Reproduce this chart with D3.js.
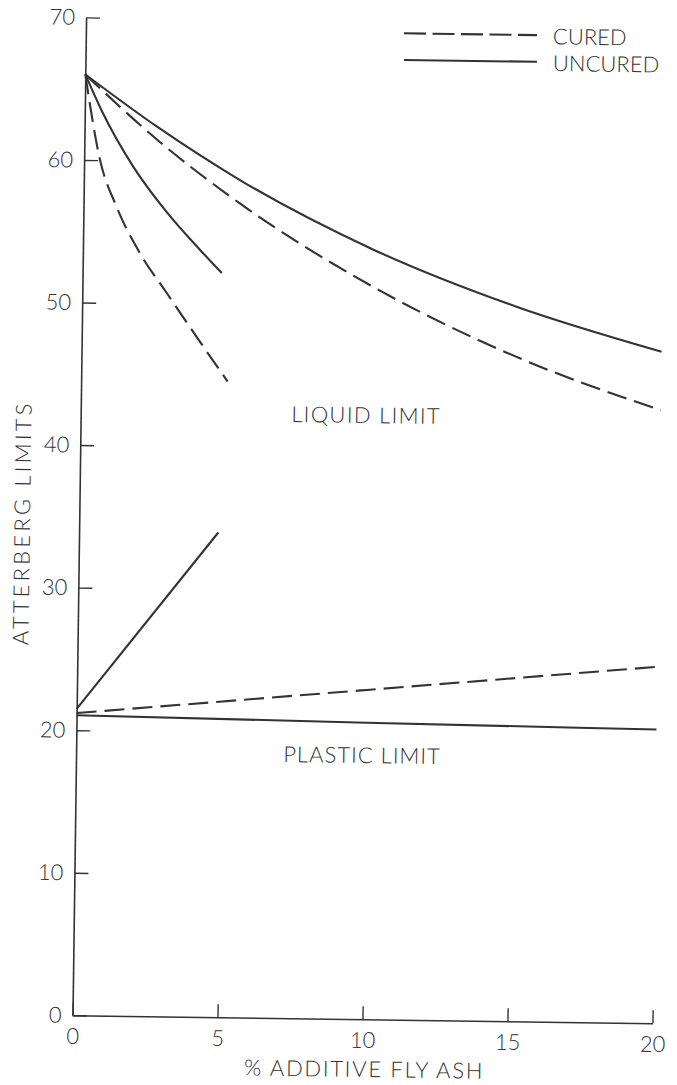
<!DOCTYPE html>
<html>
<head>
<meta charset="utf-8">
<script src="https://cdn.jsdelivr.net/npm/d3@7"></script>
<style>
  html, body { margin: 0; padding: 0; background: #fff; }
  svg { display: block; }
  text { font-family: Lato, "DejaVu Sans", sans-serif; font-weight: 300; fill: #333; }
</style>
</head>
<body>
<svg id="chart" width="677" height="1085"></svg>
<script>
// ---------- data ----------
const xTicks = [0, 5, 10, 15, 20];
const yTicks = [0, 10, 20, 30, 40, 50, 60, 70];

// Liquid limit
const llUncuredLongX = [0, 2.5, 5.38, 10, 15, 20];
const llUncuredLongY = [66, 62.4, 58.74, 54.0, 50.1, 47.1];
const llCuredLongX   = [0, 2.5, 5.39, 10, 15, 20];
const llCuredLongY   = [66, 61.5, 57.1, 51.4, 46.6, 43.0];
const llUncuredShortX = [0, 0.6, 1.69, 2.88, 4.04, 4.8];
const llUncuredShortY = [66, 63.4, 59.6, 56.4, 53.8, 52.2];
const llCuredShortX   = [0, 0.55, 1.14, 1.97, 2.91, 3.96, 5.05];
const llCuredShortY   = [66, 60.0, 56.75, 53.5, 50.75, 47.7, 44.6];

// Plastic limit
const plUncuredShortX = [0, 4.8];
const plUncuredShortY = [21.5, 34.0];
const plCuredX = [0, 10, 20];
const plCuredY = [21.2, 23.1, 25.0];
const plUncuredLongX = [0, 10, 20];
const plUncuredLongY = [21.05, 20.8, 20.6];

const legendLabels = ["CURED", "UNCURED"];

// ---------- layout ----------
const ox = 72.5, oy = 1015.3;      // screen position of the origin
const angle = 0.78;                // scanned page is slightly rotated
const rad = angle * Math.PI / 180, cs = Math.cos(rad), sn = Math.sin(rad);
function toG(sx, sy) {             // screen point -> rotated group coordinates
  const dx = sx - ox, dy = sy - oy;
  return [dx * cs + dy * sn, -dx * sn + dy * cs];
}

const svg = d3.select("#chart");
const g = svg.append("g").attr("transform", `translate(${ox},${oy}) rotate(${angle})`);

const x = d3.scaleLinear().domain([0, 20]).range([0, 580]);
const y = d3.scaleLinear().domain([0, 70]).range([0, -998]);

const ink = "#333";

// axes
const xAxis = d3.axisBottom(x).tickValues(xTicks).tickSizeInner(-13).tickSizeOuter(0).tickPadding(13);
const yAxis = d3.axisLeft(y).tickValues(yTicks).tickSizeInner(-14).tickSizeOuter(0).tickPadding(11);

const gx = g.append("g").call(xAxis);
const gy = g.append("g").call(yAxis);
[gx, gy].forEach(a => {
  a.select(".domain").attr("stroke", ink).attr("stroke-width", 1.6);
  a.selectAll(".tick line").attr("stroke", ink).attr("stroke-width", 1.4);
  a.selectAll(".tick text").attr("fill", "#333").style("font-size", "22px")
    .style("font-weight", 300)
    .style("font-family", "Lato, 'DejaVu Sans', sans-serif");
});

// series
const line = d3.line().x(d => x(d[0])).y(d => y(d[1])).curve(d3.curveMonotoneX);
const zip = (xs, ys) => xs.map((v, i) => [v, ys[i]]);
const series = [
  { pts: zip(llUncuredLongX, llUncuredLongY), dash: null },
  { pts: zip(llCuredLongX, llCuredLongY), dash: "20,8" },
  { pts: zip(llUncuredShortX, llUncuredShortY), dash: null },
  { pts: zip(llCuredShortX, llCuredShortY), dash: "20,8" },
  { pts: zip(plUncuredShortX, plUncuredShortY), dash: null },
  { pts: zip(plCuredX, plCuredY), dash: "20,8" },
  { pts: zip(plUncuredLongX, plUncuredLongY), dash: null }
];
g.selectAll("path.series").data(series).join("path")
  .attr("class", "series")
  .attr("d", d => line(d.pts))
  .attr("fill", "none")
  .attr("stroke", ink)
  .attr("stroke-width", 2.1)
  .attr("stroke-dasharray", d => d.dash);

// legend
const legendRows = [
  { label: legendLabels[0], dash: "22,6.5", sy: 33.3 },
  { label: legendLabels[1], dash: null, sy: 60 }
];
legendRows.forEach(r => {
  const p = toG(404, r.sy);
  g.append("line").attr("x1", p[0]).attr("y1", p[1]).attr("x2", p[0] + 133).attr("y2", p[1])
    .attr("stroke", ink).attr("stroke-width", 2.1).attr("stroke-dasharray", r.dash);
  g.append("text").attr("x", p[0] + 149).attr("y", p[1] + 9).style("font-size", "22px").text(r.label);
});

// annotations
function label(txt, sx, sy, rot, ls) {
  const p = toG(sx, sy);
  const t = g.append("text").attr("text-anchor", "middle").style("font-size", "22px")
    .style("letter-spacing", (ls || 0) + "px").text(txt);
  if (rot) t.attr("transform", `translate(${p[0]},${p[1]}) rotate(${rot})`);
  else t.attr("x", p[0]).attr("y", p[1]);
}
label("LIQUID LIMIT", 366, 423, 0, 1.3);
label("PLASTIC LIMIT", 362, 763, 0, 1.0);
label("% ADDITIVE FLY ASH", 364, 1077, 0, 1.7);
label("ATTERBERG LIMITS", 30, 523, -90, 3.2);
</script>
</body>
</html>
